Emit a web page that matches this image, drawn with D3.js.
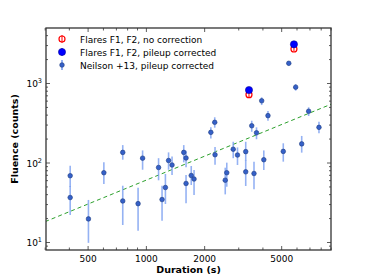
<!DOCTYPE html>
<html>
<head>
<meta charset="utf-8">
<script src="https://cdn.jsdelivr.net/npm/d3@7"></script>
<style>
  body { margin: 0; background: #fff; }
  text { font-family: 'DejaVu Sans', sans-serif; }
</style>
</head>
<body>
<div id="chart"></div>
<script>
const width = 368;
const height = 278;

// Neilson +13 flares, pileup corrected
const neilsonDuration = [404, 404, 502, 603, 755, 755, 906, 956, 1156, 1205, 1254, 1302, 1357,
  1560, 1603, 1603, 1705, 1763, 2153, 2255, 2263, 2555, 2602, 2810, 2956, 3260, 3260, 3502,
  3597, 3706, 3942, 4042, 4248, 5096, 5441, 5906, 6345, 6891, 7792];
const neilsonFluence = [69.2, 36.8, 19.8, 75.5, 136, 33.3, 30.8, 115, 87.8, 34.7, 49.2, 107.5, 94.4,
  136, 115.6, 55.3, 69.6, 62.9, 243, 325, 127, 60.8, 75.5, 149, 126, 139, 77.5, 294,
  73.8, 240, 606, 110, 394, 140, 1795, 899, 174, 448, 281];
const neilsonLow = [49.9, 22.2, 9.9, 54.5, 110, 16.6, 14.1, 82.3, 60.6, 18.8, 30.5, 82.3, 70.6,
  102, 88.3, 31.1, 52.9, 39.6, 204, 278, 95, 40.3, 50.3, 115, 94.4, 107, 51.4, 247,
  46.7, 199, 536, 81.7, 341, 104, 1670, 813, 135, 390, 236];
const neilsonHigh = [92.5, 51.4, 34.3, 102, 168, 51.8, 48.9, 144, 115, 51.8, 72.7, 136, 121,
  168, 143, 70.6, 91.7, 81.7, 281, 376, 159, 87.3, 101, 185, 157, 185, 109, 340,
  104, 281, 670, 144, 450, 177, 1880, 984, 219, 502, 331];

// Flares F1, F2
const flareDuration = [3389, 5786];
const flareNoCorr = [723, 2716];
const flarePileup = [828, 3113];

// dashed trend: fluence proportional to duration
const trendDuration = [300, 9000];
const trendRate = 0.061;

const xTickValues = [500, 1000, 2000, 5000];
const xMinorValues = [300, 400, 600, 700, 800, 900, 3000, 4000, 6000, 7000, 8000, 9000];
const yTickValues = [10, 100, 1000];
const yTickExp = ['1', '2', '3'];

const legendLabels = ['Flares F1, F2, no correction', 'Flares F1, F2, pileup corrected', 'Neilson +13, pileup corrected'];

const margin = {left: 46, right: 37, top: 28, bottom: 28};
const x = d3.scaleLog().domain([303, 8990]).range([margin.left, width - margin.right]);
const y = d3.scaleLog().domain([8.05, 4990]).range([height - margin.bottom, margin.top]);

const svg = d3.select('#chart').append('svg')
  .attr('width', width)
  .attr('height', height);

svg.append('defs').append('clipPath').attr('id', 'clip')
  .append('rect')
  .attr('x', margin.left).attr('y', margin.top)
  .attr('width', width - margin.left - margin.right)
  .attr('height', height - margin.top - margin.bottom);

const plot = svg.append('g').attr('clip-path', 'url(#clip)');

// trend line
plot.append('path')
  .datum(trendDuration)
  .attr('fill', 'none')
  .attr('stroke', '#2ca02c')
  .attr('stroke-width', 1)
  .attr('stroke-dasharray', '4,3')
  .attr('d', d3.line().x((d)=>x(d)).y((d)=>y(d * trendRate)));

// Neilson error bars + points
const neilson = neilsonDuration.map((d, i)=>({d, f: neilsonFluence[i], lo: neilsonLow[i], hi: neilsonHigh[i]}));

plot.append('g')
  .attr('stroke', '#7b9ff0')
  .attr('stroke-width', 1.6)
  .attr('stroke-opacity', 0.8)
  .selectAll('line')
  .data(neilson)
  .join('line')
  .attr('x1', (p)=>x(p.d)).attr('x2', (p)=>x(p.d))
  .attr('y1', (p)=>y(p.lo)).attr('y2', (p)=>y(p.hi));

plot.append('g')
  .selectAll('circle')
  .data(neilson)
  .join('circle')
  .attr('cx', (p)=>x(p.d))
  .attr('cy', (p)=>y(p.f))
  .attr('r', 2.3)
  .attr('fill', '#3560c8')
  .attr('stroke', '#1d3a80')
  .attr('stroke-width', 0.6);

// flares without correction (open red)
const flares = flareDuration.map((d, i)=>({d, raw: flareNoCorr[i], fixed: flarePileup[i]}));

plot.append('g')
  .selectAll('circle')
  .data(flares)
  .join('circle')
  .attr('cx', (p)=>x(p.d))
  .attr('cy', (p)=>y(p.raw))
  .attr('r', 3)
  .attr('fill', '#fff')
  .attr('stroke', '#ff0000')
  .attr('stroke-width', 1.2);

plot.append('g')
  .attr('stroke', '#ff0000')
  .attr('stroke-width', 1)
  .selectAll('line')
  .data(flares)
  .join('line')
  .attr('x1', (p)=>x(p.d)).attr('x2', (p)=>x(p.d))
  .attr('y1', (p)=>y(p.raw) - 2.5).attr('y2', (p)=>y(p.raw) + 2.5);

// flares pileup corrected (filled blue)
plot.append('g')
  .selectAll('circle')
  .data(flares)
  .join('circle')
  .attr('cx', (p)=>x(p.d))
  .attr('cy', (p)=>y(p.fixed))
  .attr('r', 3.6)
  .attr('fill', '#0000ff')
  .attr('stroke', '#00008b')
  .attr('stroke-width', 0.5);

// frame
svg.append('rect')
  .attr('x', margin.left).attr('y', margin.top)
  .attr('width', width - margin.left - margin.right)
  .attr('height', height - margin.top - margin.bottom)
  .attr('fill', 'none')
  .attr('stroke', '#333')
  .attr('stroke-width', 1.3);

// ticks, pointing inward on all sides
const ticks = svg.append('g').attr('stroke', '#333').attr('stroke-width', 0.8);
const yTop = margin.top;
const yBot = height - margin.bottom;
const xLeft = margin.left;
const xRight = width - margin.right;

function xTick(v, len) {
  ticks.append('line').attr('x1', x(v)).attr('x2', x(v)).attr('y1', yBot).attr('y2', yBot - len);
  ticks.append('line').attr('x1', x(v)).attr('x2', x(v)).attr('y1', yTop).attr('y2', yTop + len);
}
function yTick(v, len) {
  ticks.append('line').attr('y1', y(v)).attr('y2', y(v)).attr('x1', xLeft).attr('x2', xLeft + len);
  ticks.append('line').attr('y1', y(v)).attr('y2', y(v)).attr('x1', xRight).attr('x2', xRight - len);
}
xTickValues.forEach((v)=>xTick(v, 4));
xMinorValues.forEach((v)=>xTick(v, 2.5));
yTickValues.forEach((v)=>yTick(v, 4));
[1, 10, 100, 1000].forEach((dec)=>{
  d3.range(2, 10).forEach((m)=>{
    const v = dec * m;
    if (v > 8.05 && v < 4990) yTick(v, 2);
  });
});

// tick labels
svg.append('g')
  .selectAll('text')
  .data(xTickValues)
  .join('text')
  .attr('x', (v)=>x(v))
  .attr('y', yBot + 12)
  .attr('text-anchor', 'middle')
  .attr('font-size', 9)
  .text((v)=>v);

const yLab = svg.append('g')
  .selectAll('text')
  .data(yTickValues)
  .join('text')
  .attr('x', xLeft - 4)
  .attr('y', (v)=>y(v) + 3.5)
  .attr('text-anchor', 'end')
  .attr('font-size', 9);
yLab.append('tspan').text('10');
yLab.append('tspan')
  .attr('dy', -4)
  .attr('font-size', 6.5)
  .text((v, i)=>yTickExp[i]);

// axis titles
svg.append('text')
  .attr('x', (xLeft + xRight) / 2)
  .attr('y', height - 5)
  .attr('text-anchor', 'middle')
  .attr('font-size', 9.5)
  .attr('font-weight', 'bold')
  .text('Duration (s)');

svg.append('text')
  .attr('transform', `translate(18,${(yTop + yBot) / 2}) rotate(-90)`)
  .attr('text-anchor', 'middle')
  .attr('font-size', 9.5)
  .attr('font-weight', 'bold')
  .text('Fluence (counts)');

// legend
const legend = svg.append('g');
const legendY = [39, 52, 65];
const lx = 62;
// row 1: open red with bar
legend.append('circle').attr('cx', lx).attr('cy', legendY[0]).attr('r', 3)
  .attr('fill', '#fff').attr('stroke', '#ff0000').attr('stroke-width', 1.2);
legend.append('line').attr('x1', lx).attr('x2', lx).attr('y1', legendY[0] - 4).attr('y2', legendY[0] + 4)
  .attr('stroke', '#ff0000').attr('stroke-width', 1);
// row 2: filled blue
legend.append('line').attr('x1', lx).attr('x2', lx).attr('y1', legendY[1] - 4).attr('y2', legendY[1] + 4)
  .attr('stroke', '#0000ff').attr('stroke-width', 1);
legend.append('circle').attr('cx', lx).attr('cy', legendY[1]).attr('r', 3.6)
  .attr('fill', '#0000ff').attr('stroke', '#00008b').attr('stroke-width', 0.5);
// row 3: small neilson
legend.append('line').attr('x1', lx).attr('x2', lx).attr('y1', legendY[2] - 5).attr('y2', legendY[2] + 5)
  .attr('stroke', '#7b9ff0').attr('stroke-width', 1.6);
legend.append('circle').attr('cx', lx).attr('cy', legendY[2]).attr('r', 2.3)
  .attr('fill', '#3560c8').attr('stroke', '#1d3a80').attr('stroke-width', 0.6);

legend.selectAll('text')
  .data(legendLabels)
  .join('text')
  .attr('x', 80)
  .attr('y', (t, i)=>legendY[i] + 3.5)
  .attr('font-size', 9)
  .text((t)=>t);
</script>
</body>
</html>
